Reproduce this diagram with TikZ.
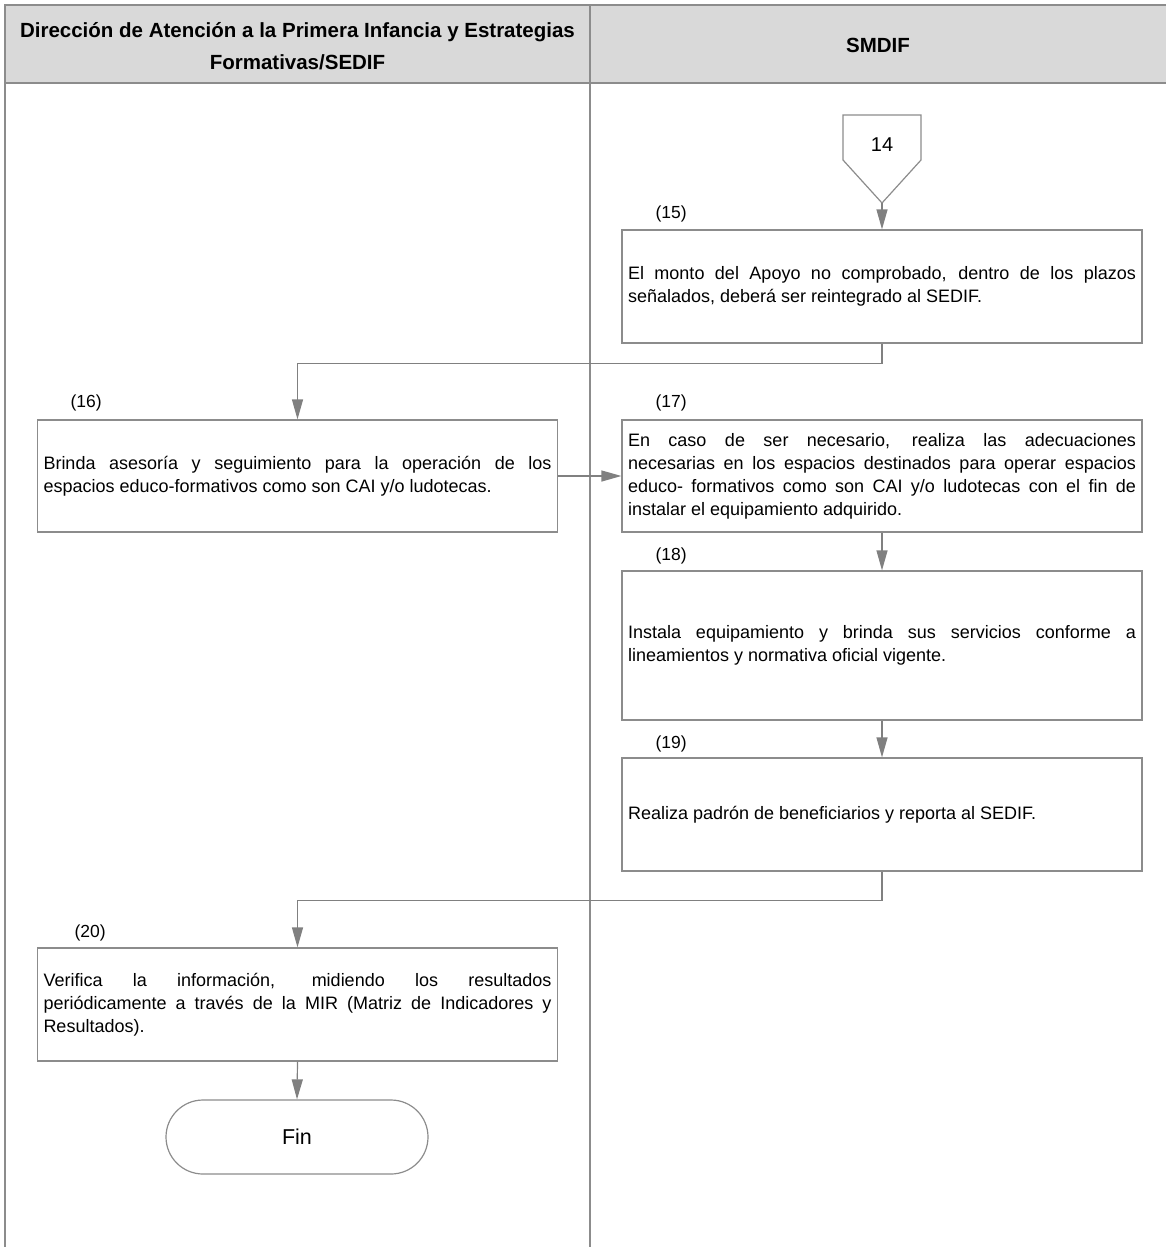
\documentclass[tikz,border=0pt]{standalone}
\usepackage{fontspec}
\setmainfont{Liberation Sans}
\usetikzlibrary{arrows.meta}
\definecolor{lanegray}{RGB}{217,217,217}
\definecolor{linegray}{RGB}{140,140,140}
\definecolor{flowgray}{RGB}{128,128,128}
\hyphenpenalty=10000
\exhyphenpenalty=10000

\begin{document}
\begin{tikzpicture}[x=1pt, y=-1pt,
    every node/.style={font=\fontsize{18}{23}\selectfont},
    stepbox/.style={draw=linegray, line width=1.2pt, fill=white, inner sep=6pt,
        text width=508pt, align=justify},
    steplabel/.style={anchor=west, font=\fontsize{17.5}{19}\selectfont},
    headtext/.style={font=\fontsize{20.5}{32}\selectfont\bfseries, align=center},
    flow/.style={draw=flowgray, line width=1.2pt, -{Triangle[length=20pt, width=11pt]}},
    frame/.style={draw=linegray, line width=1.6pt}]

\useasboundingbox (0,0) rectangle (1166,1247);

% Swimlane header and borders
\fill[lanegray] (5,5) rectangle (1166,83);
\draw[frame] (1166,5) -- (5,5) -- (5,1247);
\draw[frame] (5,83) -- (1166,83);
\draw[frame] (590,5) -- (590,1247);

\node[headtext] (lane1) at (297.5,46) {Dirección de Atención a la Primera Infancia y Estrategias\\Formativas/SEDIF};
\node[headtext] (lane2) at (878,45) {SMDIF};

% Off-page connector
\draw[linegray, line width=1.2pt, fill=white] (843,115) -- (921,115) -- (921,160) -- (882,203) -- (843,160) -- cycle;
\coordinate (c14tip) at (882,203);
\node[font=\fontsize{20}{22}\selectfont] (c14) at (882,145) {14};

% Steps
\node[stepbox, minimum height=113pt] (b15) at (882,286.5)
    {El monto del Apoyo no comprobado, dentro de los plazos\linebreak señalados, deberá ser reintegrado al SEDIF.};
\node[steplabel] (l15) at (652,214) {(15)};

\node[stepbox, minimum height=112pt] (b16) at (297.5,476)
    {Brinda asesoría y seguimiento para la operación de los\linebreak espacios educo-formativos como son CAI y/o ludotecas.};
\node[steplabel] (l16) at (67,403) {(16)};

\node[stepbox, minimum height=112pt] (b17) at (882,476)
    {En caso de ser necesario, realiza las adecuaciones\linebreak necesarias en los espacios destinados para operar espacios\linebreak educo- formativos como son CAI y/o ludotecas con el fin de\linebreak instalar el equipamiento adquirido.};
\node[steplabel] (l17) at (652,403) {(17)};

\node[stepbox, minimum height=149pt] (b18) at (882,645.5)
    {Instala equipamiento y brinda sus servicios conforme a\linebreak lineamientos y normativa oficial vigente.};
\node[steplabel] (l18) at (652,556) {(18)};

\node[stepbox, minimum height=113pt] (b19) at (882,814.5)
    {Realiza padrón de beneficiarios y reporta al SEDIF.};
\node[steplabel] (l19) at (652,744) {(19)};

\node[stepbox, minimum height=113pt] (b20) at (297.5,1004.5)
    {Verifica la información, midiendo los resultados\linebreak periódicamente a través de la MIR (Matriz de Indicadores y\linebreak Resultados).};
\node[steplabel] (l20) at (71,933) {(20)};

\node[draw=linegray, line width=1.2pt, rounded corners=37pt, minimum width=262pt,
    minimum height=74pt, font=\fontsize{21.5}{24}\selectfont] (fin) at (297,1137) {Fin};

% Connectors
\draw[flow] (c14tip) -- (b15.north);
\draw[flow] (b15.south) -- ++(0,20) -| (b16.north);
\draw[flow] (b16.east) -- (b17.west);
\draw[flow] (b17.south) -- (b18.north);
\draw[flow] (b18.south) -- (b19.north);
\draw[flow] (b19.south) -- ++(0,29) -| (b20.north);
\draw[flow] (b20.south) -- (fin.north);

\end{tikzpicture}
\end{document}
